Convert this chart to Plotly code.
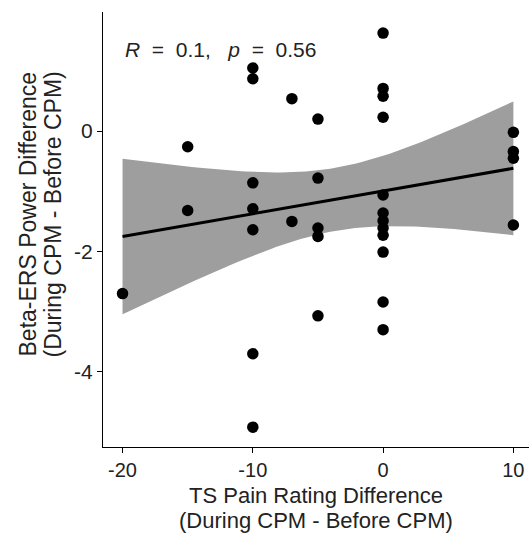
import numpy as np
import plotly.graph_objects as go

# TS pain rating difference (x) and Beta-ERS power difference (y)
pain_diff = [-20,
             -15, -15,
             -10, -10, -10, -10, -10, -10, -10,
             -7, -7,
             -5, -5, -5, -5, -5,
             0, 0, 0, 0, 0, 0, 0, 0, 0, 0, 0, 0,
             10, 10, 10, 10]
beta_diff = [-2.70,
             -0.26, -1.32,
             1.05, 0.87, -0.86, -1.29, -1.64, -3.70, -4.92,
             0.54, -1.50,
             0.20, -0.78, -1.61, -1.75, -3.07,
             1.63, 0.71, 0.58, 0.23, -1.06, -1.36, -1.49, -1.61, -1.73, -2.01, -2.84, -3.30,
             -0.02, -0.34, -0.45, -1.56]
x_ticks = [-20, -10, 0, 10]
y_ticks = [0, -2, -4]
x_title = ["TS Pain Rating Difference", "(During CPM - Before CPM)"]
y_title = ["Beta-ERS Power Difference", "(During CPM - Before CPM)"]
nb = "\u00a0"
stat_label = f"<i>R</i>{nb*2}={nb*2}0.1,{nb*3}<i>p</i>{nb*2}={nb*2}0.56"

# linear fit with 95% confidence band
x = np.array(pain_diff, dtype=float)
y = np.array(beta_diff, dtype=float)
n = len(x)
slope, intercept = np.polyfit(x, y, 1)
resid = y - (slope * x + intercept)
s = np.sqrt(np.sum(resid ** 2) / (n - 2))
sxx = np.sum((x - x.mean()) ** 2)
t_crit = 2.0395  # t(0.975, df=31)
xs = np.linspace(x.min(), x.max(), 80)
fit = slope * xs + intercept
se = s * np.sqrt(1.0 / n + (xs - x.mean()) ** 2 / sxx)
upper = fit + t_crit * se
lower = fit - t_crit * se

font = "Liberation Sans, Arial, sans-serif"
txt = "#222222"
fig = go.Figure()
fig.add_trace(go.Scatter(
    x=np.concatenate([xs, xs[::-1]]), y=np.concatenate([upper, lower[::-1]]),
    fill="toself", fillcolor="#9e9e9e", line=dict(width=0), mode="lines",
    hoverinfo="skip", showlegend=False))
fig.add_trace(go.Scatter(x=xs, y=fit, mode="lines",
                         line=dict(color="black", width=3), showlegend=False))
fig.add_trace(go.Scatter(x=pain_diff, y=beta_diff, mode="markers",
                         marker=dict(color="black", size=11.5), showlegend=False))

fig.add_annotation(x=min(pain_diff), y=1.36, text=stat_label, showarrow=False,
                   xanchor="left", yanchor="middle",
                   font=dict(family=font, size=21, color=txt))

# axis titles (two lines each, spacing as in the reference)
for i, line in enumerate(x_title):
    fig.add_annotation(xref="paper", yref="paper", x=0.5, y=0, yshift=-48 - 25 * i,
                       text=line, showarrow=False, xanchor="center", yanchor="middle",
                       font=dict(family=font, size=22, color=txt))
for i, line in enumerate(y_title):
    fig.add_annotation(xref="paper", yref="paper", x=0, y=0.5, yshift=15,
                       xshift=-76 + 25 * i, textangle=-90,
                       text=line, showarrow=False, xanchor="center", yanchor="middle",
                       font=dict(family=font, size=23, color=txt))

fig.update_layout(
    width=529, height=539,
    margin=dict(l=103, r=0, t=12, b=92),
    plot_bgcolor="white", paper_bgcolor="white",
    font=dict(family=font, color=txt),
    xaxis=dict(range=[-21.5, 11.2], tickvals=x_ticks, ticktext=[str(v) for v in x_ticks],
               showgrid=False, zeroline=False, showline=True, linecolor="black",
               linewidth=1.2, ticks="outside", ticklen=5, tickcolor="black",
               tickfont=dict(size=20, color=txt)),
    yaxis=dict(range=[-5.25, 1.98], tickvals=y_ticks, ticktext=[str(v) for v in y_ticks],
               showgrid=False, zeroline=False, showline=True, linecolor="black",
               linewidth=1.2, ticks="outside", ticklen=5, tickcolor="black",
               tickfont=dict(size=21, color=txt)),
)
fig.write_html("out.html")
